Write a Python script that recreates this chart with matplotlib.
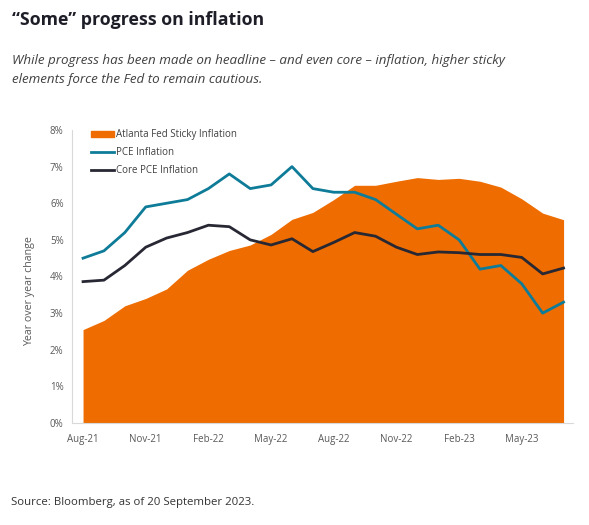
import matplotlib.pyplot as plt
import matplotlib.lines as mlines
import matplotlib.patches as mpatches
from matplotlib.ticker import FuncFormatter

# monthly data, Aug-21 .. Jul-23
months = ["Aug-21", "Sep-21", "Oct-21", "Nov-21", "Dec-21", "Jan-22", "Feb-22", "Mar-22",
          "Apr-22", "May-22", "Jun-22", "Jul-22", "Aug-22", "Sep-22", "Oct-22", "Nov-22",
          "Dec-22", "Jan-23", "Feb-23", "Mar-23", "Apr-23", "May-23", "Jun-23", "Jul-23"]
sticky = [2.55, 2.8, 3.2, 3.4, 3.66, 4.17, 4.47, 4.71, 4.86, 5.15, 5.56, 5.75,
          6.1, 6.49, 6.49, 6.6, 6.7, 6.65, 6.68, 6.6, 6.44, 6.12, 5.73, 5.55]
pce = [4.5, 4.7, 5.2, 5.9, 6.0, 6.1, 6.4, 6.8, 6.4, 6.5, 7.0, 6.4,
       6.3, 6.3, 6.1, 5.7, 5.3, 5.4, 5.0, 4.2, 4.3, 3.8, 3.0, 3.3]
core_pce = [3.86, 3.9, 4.3, 4.8, 5.05, 5.2, 5.4, 5.36, 5.0, 4.86, 5.03, 4.68,
            4.93, 5.2, 5.1, 4.8, 4.6, 4.67, 4.65, 4.6, 4.6, 4.52, 4.07, 4.23]
tick_labels = months[::3]

ORANGE = '#EE6C00'
TEAL = '#0E7C98'
DARK = '#272833'
GREY = '#595959'

plt.rcParams['font.family'] = ['Open Sans', 'DejaVu Sans']

fig = plt.figure(figsize=(5.89, 5.25), dpi=100)
ax = fig.add_axes([0.1222, 0.1943, 0.8506, 0.5581])

x = list(range(len(months)))
ax.fill_between(x, 0, sticky, color=ORANGE, linewidth=0)
ax.plot(x, pce, color=TEAL, linewidth=2)
ax.plot(x, core_pce, color=DARK, linewidth=2)

ax.set_xlim(-0.53, 23.45)
ax.set_ylim(0, 8)
ax.set_xticks(x[::3])
ax.set_xticklabels(tick_labels)
ax.set_yticks(range(0, 9))
ax.yaxis.set_major_formatter(FuncFormatter(lambda v, p: f"{int(v)}%"))
ax.tick_params(axis='both', length=0, labelsize=7, colors=GREY, pad=6)
ax.tick_params(axis='x', pad=8)

for s in ['top', 'right']:
    ax.spines[s].set_visible(False)
for s in ['left', 'bottom']:
    ax.spines[s].set_color('#d9d9d9')
    ax.spines[s].set_linewidth(0.8)

handles = [mpatches.Patch(color=ORANGE, label='Atlanta Fed Sticky Inflation'),
           mlines.Line2D([], [], color=TEAL, linewidth=2, label='PCE Inflation'),
           mlines.Line2D([], [], color=DARK, linewidth=2, label='Core PCE Inflation')]
leg = ax.legend(handles=handles, loc='upper left', bbox_to_anchor=(0.03, 1.015),
                frameon=False, fontsize=7, handlelength=2.4, handletextpad=0.15,
                labelspacing=0.7, borderaxespad=0)
for t in leg.get_texts():
    t.set_color('#404040')

fig.text(0.05, 0.446, 'Year over year change', rotation=90, ha='center', va='center',
         fontsize=7.7, color=GREY)

fig.text(0.02, 0.962, '\u201cSome\u201d progress on inflation', fontsize=12.8, weight='bold',
         color='#1e1e28', va='center', ha='left')
fig.text(0.02, 0.885, 'While progress has been made on headline \u2013 and even core \u2013 inflation, higher sticky',
         fontsize=9.6, style='italic', color='#404040', va='center', ha='left')
fig.text(0.02, 0.848, 'elements force the Fed to remain cautious.',
         fontsize=9.6, style='italic', color='#404040', va='center', ha='left')
fig.text(0.018, 0.042, 'Source: Bloomberg, as of 20 September 2023.', fontsize=8.2,
         color='#333333', va='center', ha='left')

fig.savefig('out.png', dpi=100)
